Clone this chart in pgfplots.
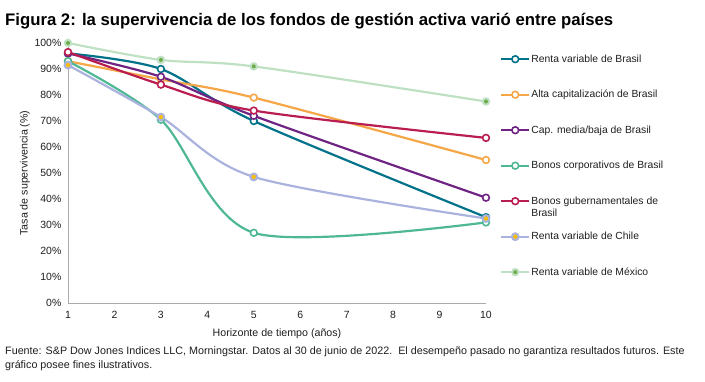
\documentclass[border=0pt]{standalone}
\usepackage{fontspec}
\setmainfont{Liberation Sans}
\usepackage{pgfplots}
\pgfplotsset{compat=1.18}
\definecolor{cteal}{RGB}{0,114,138}
\definecolor{corange}{RGB}{245,166,70}
\definecolor{cpurple}{RGB}{111,35,130}
\definecolor{cgreen}{RGB}{78,184,148}
\definecolor{ccrim}{RGB}{186,30,80}
\definecolor{clav}{RGB}{170,178,222}
\definecolor{cmexl}{RGB}{190,225,195}
\definecolor{cmexd}{RGB}{110,170,70}
\definecolor{cgold}{RGB}{250,190,10}
\definecolor{axgray}{RGB}{170,170,170}
\definecolor{txt}{RGB}{30,30,30}
\begin{document}
\begin{tikzpicture}
\path[use as bounding box] (0,0) rectangle (705bp,382bp);
\node[anchor=base west, font=\bfseries\fontsize{16.8}{19}\selectfont, inner sep=0] at (5bp,356bp) {Figura 2: la supervivencia de los fondos de gestión activa varió entre países};
\node[anchor=base west, align=left, font=\fontsize{10.8}{14}\selectfont, inner sep=0, text=txt] at (5bp,14bp) {Fuente: S\&P Dow Jones Indices LLC, Morningstar. Datos al 30 de junio de 2022.\ \ El desempeño pasado no garantiza resultados futuros. Este\\gráfico posee fines ilustrativos.};
\begin{axis}[
  at={(68bp,79bp)}, anchor=south west,
  scale only axis, width=418bp, height=260bp,
  xmin=1, xmax=10, ymin=0, ymax=100,
  xtick={1,...,10}, ytick={0,10,...,100},
  yticklabel={\pgfmathprintnumber{\tick}\%},
  /pgf/number format/assume math mode=true,
  axis x line=bottom, axis y line=left,
  axis line style={axgray, line width=0.8pt, -},
  tick style={draw=none},
  ticklabel style={font=\fontsize{10.5}{12}\selectfont, text=txt},
  xticklabel style={yshift=-3bp},
  yticklabel style={xshift=-1bp},
  xlabel={Horizonte de tiempo (años)},
  ylabel={Tasa de supervivencia (\%)},
  label style={font=\fontsize{10.7}{12}\selectfont, text=txt},
  xlabel style={yshift=-3bp},
  ylabel style={yshift=-2bp},
  clip=false,
  every axis plot/.append style={line width=2.2pt, smooth, tension=0.5},
  legend image code/.code={\draw[mark repeat=2,mark phase=2,#1] plot coordinates {(0bp,0bp) (14bp,0bp) (28bp,0bp)};},
  legend style={draw=none, fill=none, at={(1,1)}, anchor=north west, xshift=11bp, yshift=-8bp,
    font=\fontsize{10.4}{12}\selectfont, text=txt, row sep=23.5bp,
    nodes={inner sep=1bp, text height=8bp, text depth=2bp, anchor=west}},
  legend cell align=left,
]
\addplot[cteal, mark=*, mark options={draw=cteal, fill=white, line width=1.6pt}, mark size=3.4pt] coordinates {(1,96) (3,90) (5,70) (10,33)};
\addlegendentry{Renta variable de Brasil}
\addplot[corange, mark=*, mark options={draw=corange, fill=white, line width=1.6pt}, mark size=3.4pt] coordinates {(1,93) (3,86) (5,79) (10,55)};
\addlegendentry{Alta capitalización de Brasil}
\addplot[cpurple, mark=*, mark options={draw=cpurple, fill=white, line width=1.6pt}, mark size=3.4pt] coordinates {(1,96) (3,87) (5,72) (10,40.5)};
\addlegendentry{Cap. media/baja de Brasil}
\addplot[cgreen, mark=*, mark options={draw=cgreen, fill=white, line width=1.6pt}, mark size=3.4pt] coordinates {(1,93) (3,70.5) (5,27) (10,31)};
\addlegendentry{Bonos corporativos de Brasil}
\addplot[ccrim, mark=*, mark options={draw=ccrim, fill=white, line width=1.6pt}, mark size=3.4pt] coordinates {(1,96.5) (3,84) (5,74) (10,63.5)};
\addlegendentry{\raisebox{0pt}[\height][0pt]{\begin{tabular}[t]{@{}l@{}}Bonos gubernamentales de\\Brasil\end{tabular}}}
\addplot[clav, mark=*, mark options={draw=clav, fill=cgold, line width=2pt}, mark size=3.4pt] coordinates {(1,91.5) (3,71.5) (5,48.5) (10,32.5)};
\addlegendentry{Renta variable de Chile}
\addplot[cmexl, mark=*, mark options={draw=cmexl, fill=cmexd, line width=2pt}, mark size=3.2pt] coordinates {(1,100) (3,93.5) (5,91) (10,77.5)};
\addlegendentry{Renta variable de México}
\end{axis}
\end{tikzpicture}
\end{document}
